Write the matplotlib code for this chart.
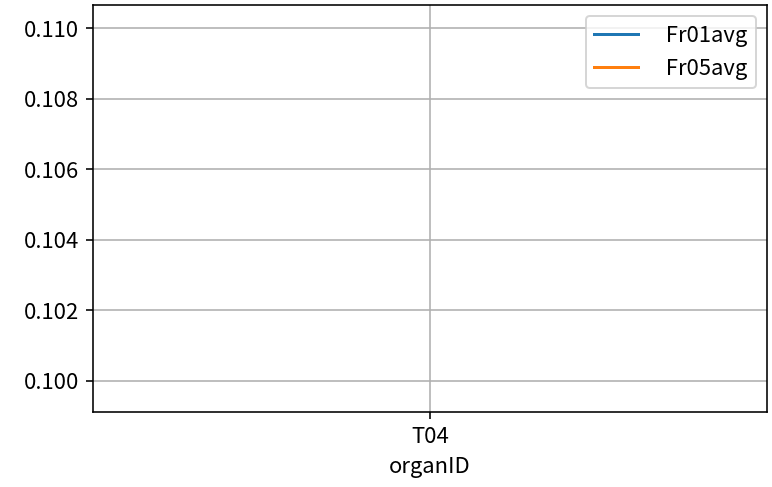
import matplotlib

matplotlib.use("Agg")
import matplotlib.pyplot as plt

plt.rcParams["font.family"] = ["Noto Sans CJK SC", "DejaVu Sans"]
plt.rcParams["axes.unicode_minus"] = False
plt.rcParams["font.size"] = 11

# 单个器官，两个平均值序列
organ_ids = ["T04"]
fr01_avg = [0.1049]
fr05_avg = [0.1049]
series_labels = ["  Fr01avg", "  Fr05avg"]

fig = plt.figure(figsize=(772 / 144, 487 / 144), dpi=144)
ax = fig.add_axes([0.1205, 0.155, 0.873, 0.835])

ax.plot(organ_ids, fr01_avg, color="#1f77b4", label=series_labels[0])
ax.plot(organ_ids, fr05_avg, color="#ff7f0e", label=series_labels[1])

ax.set_xlabel("organID")
ax.grid(True)
ax.legend(loc="upper right")

fig.savefig("out.png", dpi=144)
